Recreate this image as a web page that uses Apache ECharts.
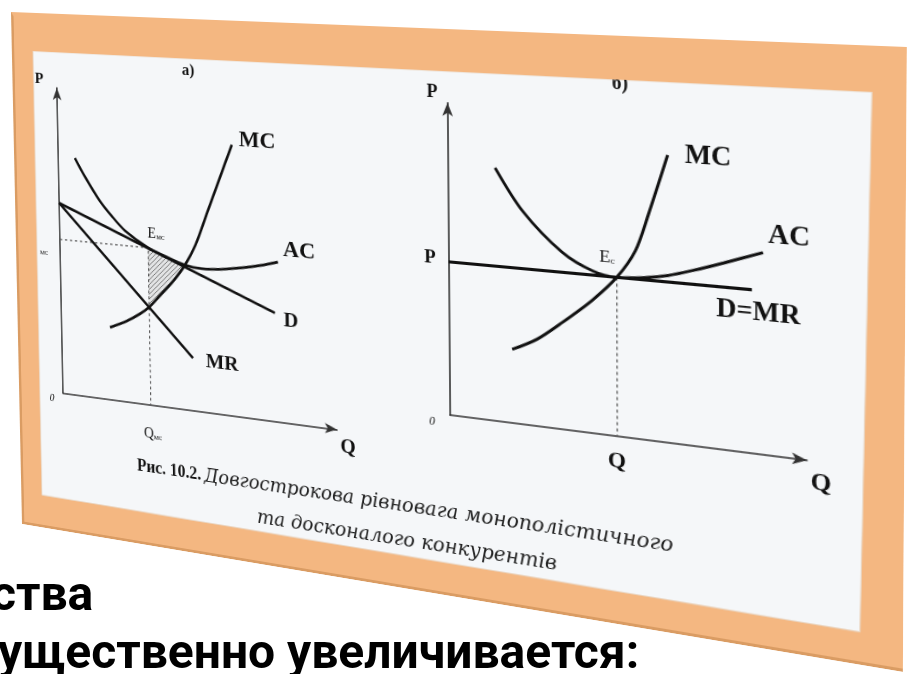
<!DOCTYPE html>
<html><head><meta charset="utf-8">
<script src="https://cdn.jsdelivr.net/npm/echarts@6/dist/echarts.min.js"></script>
<style>
html,body{margin:0;padding:0;background:#fff;overflow:hidden;width:909px;height:674px;}
#bg{position:absolute;left:0;top:0;width:909px;height:674px;}
#fig{position:absolute;left:0;top:0;width:900px;height:560px;transform-origin:0 0;}
</style></head><body>
<div id="bg"></div><div id="fig"></div>
<script>
// ---------- data (chart units: both axes run 0..10) ----------
// panel a) monopolistic competition
const leftD   = [[0,6.25],[7.90,3.40]];
const leftMR  = [[0,6.25],[4.94,1.68]];
const leftAC  = [[0.64,7.76],[1.0,7.2],[1.55,6.45],[2.0,5.98],[2.5,5.54],[3.35,5.06],[4.0,4.83],[4.7,4.62],[5.3,4.56],[6.0,4.6],[6.7,4.7],[7.4,4.84],[8.03,5.0]];
const leftMC  = [[1.86,2.35],[2.5,2.62],[3.0,2.9],[3.35,3.15],[3.76,3.56],[4.25,4.06],[4.7,4.62],[5.1,5.3],[5.56,6.4],[6.0,7.45],[6.46,8.54]];
const leftGuide = [[0,5.06],[3.35,5.06],[3.35,0]];
const leftHatch = [[3.35,5.06],[4.0,4.83],[4.7,4.62],[4.25,4.06],[3.76,3.56],[3.35,3.15]];
// panel б) perfect competition
const rightD  = [[0,4.93],[8.55,4.93]];
const rightAC = [[1.40,8.04],[2.2,6.74],[3.33,5.56],[4.2,5.06],[4.88,4.93],[5.6,4.99],[6.3,5.13],[7.0,5.36],[7.8,5.66],[8.84,6.07]];
const rightMC = [[1.87,2.34],[2.6,2.75],[3.33,3.36],[4.2,4.16],[4.88,4.93],[5.4,5.8],[5.76,6.94],[6.29,8.79]];
const rightGuide = [[4.88,4.93],[4.88,0]];
// texts
const captionLine1 = ['Рис. 10.2.', 'Довгострокова рівновага монополістичного'];
const captionLine2 = 'та досконалого конкурентів';
const bottomLines = ['ства', 'ущественно увеличивается:'];

// ---------- perspective of the photographed figure ----------
const W = 900, H = 560;
const outerQuad = [[11,12],[907,47],[903,672],[22,524]];
const innerQuad = [[33,51],[872,92],[860,632],[42,495]];
function homography(q){
  const [x0,y0]=q[0],[x1,y1]=q[1],[x2,y2]=q[2],[x3,y3]=q[3];
  const dx1=x1-x2, dx2=x3-x2, dx3=x0-x1+x2-x3;
  const dy1=y1-y2, dy2=y3-y2, dy3=y0-y1+y2-y3;
  const den=dx1*dy2-dx2*dy1;
  const g=(dx3*dy2-dx2*dy3)/den, h=(dx1*dy3-dx3*dy1)/den;
  return {a:x1-x0+g*x1, b:x3-x0+h*x3, c:x0, d:y1-y0+g*y1, e:y3-y0+h*y3, f:y0, g, h};
}
const Hm = homography(outerQuad);
function inv(X,Y){
  const {a,b,c,d,e,f,g,h}=Hm;
  const A11=a-g*X, A12=b-h*X, A21=d-g*Y, A22=e-h*Y, R1=X-c, R2=Y-f;
  const det=A11*A22-A12*A21;
  return [(R1*A22-A12*R2)/det*W, (A11*R2-A21*R1)/det*H];
}
const figEl = document.getElementById('fig');
const M = [Hm.a/W, Hm.b/H, Hm.c, Hm.d/W, Hm.e/H, Hm.f, Hm.g/W, Hm.h/H, 1];
figEl.style.transform = `matrix3d(${M[0]},${M[3]},0,${M[6]},${M[1]},${M[4]},0,${M[7]},0,0,1,0,${M[2]},${M[5]},0,${M[8]})`;

// ---------- layout (target pixel positions mapped to flat figure) ----------
const oL = inv(63,393), xL = inv(337,430), yL = inv(58,88);
const oR = inv(450,415), xR = inv(807,463), yR = inv(451,103);
const SERIF = '"Liberation Serif", "Times New Roman", serif';

const pc = document.createElement('canvas'); pc.width = 5; pc.height = 5;
const pctx = pc.getContext('2d');
pctx.fillStyle = 'rgba(215,215,215,0.6)'; pctx.fillRect(0,0,5,5);
pctx.strokeStyle = '#6a6a6a'; pctx.lineWidth = 0.9;
pctx.beginPath(); pctx.moveTo(0,5); pctx.lineTo(5,0); pctx.moveTo(-1,1); pctx.lineTo(1,-1); pctx.moveTo(4,6); pctx.lineTo(6,4); pctx.stroke();

function txt(tx, ty, text, size, opt){
  const p = inv(tx, ty);
  opt = opt || {};
  return {type:'text', x:p[0], y:p[1], z: 50,
    style:{text:text, fill:'#111', font:(opt.style||'normal')+' '+(opt.weight||'bold')+' '+size+'px '+(opt.family||SERIF),
      align:opt.align||'center', verticalAlign:'middle'}};
}
function subTxt(tx, ty, main, sub, size){
  const p = inv(tx, ty);
  return {type:'text', x:p[0], y:p[1], z:50,
    style:{text:'{m|'+main+'}{s|'+sub+'}', align:'center', verticalAlign:'middle',
      rich:{m:{fontFamily:SERIF, fontSize:size, fill:'#111', lineHeight:size+2, verticalAlign:'bottom'},
            s:{fontFamily:SERIF, fontSize:Math.round(size*0.55), fill:'#111', lineHeight:Math.round(size*0.55)+1, verticalAlign:'bottom'}}}};
}
const poly = pts => pts.map(p=>inv(p[0],p[1]));

const axisCommon = {type:'value', min:0, max:10, axisTick:{show:false}, axisLabel:{show:false}, splitLine:{show:false},
  axisLine:{show:true, onZero:false, symbol:['none','arrow'], symbolSize:[8,13], lineStyle:{color:'#333', width:1.6}}};
const curve = {type:'line', symbol:'none', z:3, lineStyle:{color:'#111', width:2.8}};
const guide = {type:'line', symbol:'none', z:2, lineStyle:{color:'#555', width:1.2, type:[3,3]}};

const fig = echarts.init(figEl);
fig.setOption({
  animation:false,
  grid:[
    {left:oL[0], top:yL[1], width:xL[0]-oL[0], height:oL[1]-yL[1]},
    {left:oR[0], top:yR[1], width:xR[0]-oR[0], height:oR[1]-yR[1]}
  ],
  xAxis:[Object.assign({gridIndex:0}, axisCommon), Object.assign({gridIndex:1}, axisCommon)],
  yAxis:[Object.assign({gridIndex:0}, axisCommon), Object.assign({gridIndex:1}, axisCommon)],
  graphic:[
    {type:'rect', z:-10, shape:{x:0,y:0,width:W,height:H}, style:{fill:'#F4B781'}},
    {type:'polyline', z:-9, shape:{points:[[1,0],[1,H-1],[W,H-1]]}, style:{stroke:'#DA9C63', lineWidth:4, fill:null}},
    {type:'polygon', z:-8, shape:{points:poly(innerQuad)}, style:{fill:'#F5F7F9', stroke:'#EAD6C2', lineWidth:1}},
    {type:'polygon', z:60, shape:{points:poly([outerQuad[0],outerQuad[1],innerQuad[1],innerQuad[0]])}, style:{fill:'#F4B781'}},
    // panel a)
    txt(188,71,'а)',17),
    txt(39,79,'P',17),
    txt(257,141,'MC',24),
    txt(299,251,'AC',24),
    txt(291,321,'D',22),
    txt(222,364,'MR',22),
    subTxt(156,233,'E','мс',16),
    txt(44,252,'мс',9,{weight:'normal'}),
    txt(52,398,'0',12,{style:'italic',weight:'normal'}),
    subTxt(153,433,'Q','мс',16),
    txt(348,448,'Q',21),
    // panel б)
    txt(620,84,'б)',18),
    txt(432,92,'P',18),
    txt(708,157,'MC',25),
    txt(789,237,'AC',25),
    txt(758,313,'D=MR',25),
    subTxt(607,256,'E','с',17),
    txt(430,258,'P',19),
    txt(432,422,'0',12,{style:'italic',weight:'normal'}),
    txt(617,462,'Q',22),
    txt(821,484,'Q',23),
    // caption
    (function(){const p=inv(137,466);return {type:'text',x:p[0],y:p[1],z:50,style:{text:'{b|'+captionLine1[0]+'} {i|'+captionLine1[1]+'}',align:'left',verticalAlign:'middle',
      rich:{b:{fontFamily:SERIF,fontWeight:'bold',fontSize:18,fill:'#111'},i:{fontFamily:'"DejaVu Serif", serif',fontStyle:'italic',fontSize:20,fill:'#222'}}}};})(),
    (function(){const p=inv(257,518);return {type:'text',x:p[0],y:p[1],z:50,style:{text:captionLine2,align:'left',verticalAlign:'middle',
      font:'italic 20px "DejaVu Serif", serif',fill:'#222'}};})()
  ],
  series:[
    Object.assign({name:'D', data:leftD, xAxisIndex:0, yAxisIndex:0}, curve),
    Object.assign({name:'MR', data:leftMR, xAxisIndex:0, yAxisIndex:0}, curve),
    Object.assign({name:'AC', data:leftAC, xAxisIndex:0, yAxisIndex:0, smooth:0.3}, curve),
    Object.assign({name:'MC', data:leftMC, xAxisIndex:0, yAxisIndex:0, smooth:0.3}, curve),
    Object.assign({name:'guideL', data:leftGuide, xAxisIndex:0, yAxisIndex:0}, guide),
    {type:'custom', name:'hatch', xAxisIndex:0, yAxisIndex:0, z:1, data:[[leftHatch[0][0], leftHatch[0][1]]],
      renderItem:(params, api)=>({type:'polygon', shape:{points:leftHatch.map(p=>api.coord(p))},
        style:{fill:{image:pc, repeat:'repeat'}, stroke:null}})},
    Object.assign({name:'D=MR', data:rightD, xAxisIndex:1, yAxisIndex:1}, curve),
    Object.assign({name:'AC б', data:rightAC, xAxisIndex:1, yAxisIndex:1, smooth:0.3}, curve),
    Object.assign({name:'MC б', data:rightMC, xAxisIndex:1, yAxisIndex:1, smooth:0.3}, curve),
    Object.assign({name:'guideR', data:rightGuide, xAxisIndex:1, yAxisIndex:1}, guide)
  ]
});

const bg = echarts.init(document.getElementById('bg'));
bg.setOption({
  animation:false,
  graphic:[
    {type:'text', x:-9, y:598, style:{text:bottomLines[0], font:'bold 48px Roboto, "Open Sans", sans-serif', fill:'#000', align:'left', verticalAlign:'middle'}},
    {type:'text', x:-2, y:656, style:{text:bottomLines[1], font:'bold 48px Roboto, "Open Sans", sans-serif', fill:'#000', align:'left', verticalAlign:'middle'}}
  ]
});
</script>
</body></html>
